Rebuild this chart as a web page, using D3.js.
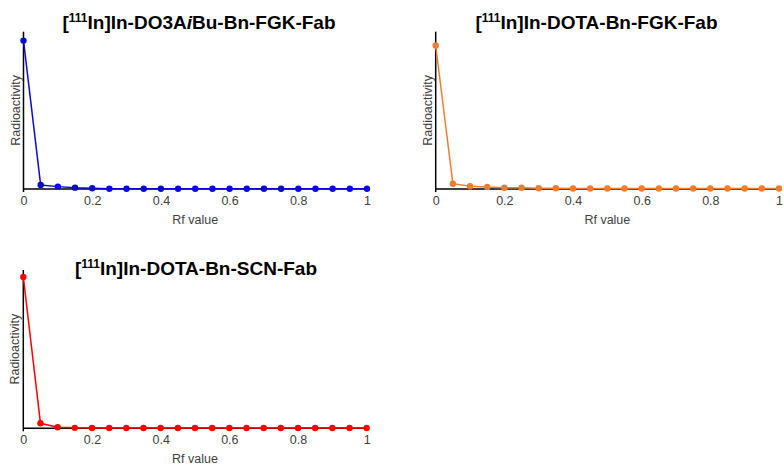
<!DOCTYPE html>
<html>
<head>
<meta charset="utf-8">
<script src="https://cdn.jsdelivr.net/npm/d3@7"></script>
<style>
  body { margin: 0; background: #fff; }
  svg { display: block; font-family: "Liberation Sans", Arial, sans-serif; }
</style>
</head>
<body>
<svg id="chart" width="784" height="466"></svg>
<script>
// Rf positions along the TLC strip
var rfValues = [0, 0.05, 0.1, 0.15, 0.2, 0.25, 0.3, 0.35, 0.4, 0.45, 0.5,
                0.55, 0.6, 0.65, 0.7, 0.75, 0.8, 0.85, 0.9, 0.95, 1];

// radioactivity (relative, peak = 100)
var do3aFgk = [100, 2.7, 1.6, 0.9, 0.5, 0.2, 0.2, 0.2, 0.2, 0.2, 0.2,
               0.2, 0.2, 0.2, 0.2, 0.2, 0.2, 0.2, 0.2, 0.2, 0.2];
var dotaFgk = [100, 3.7, 1.9, 1.4, 0.9, 0.9, 0.5, 0.5, 0.4, 0.4, 0.4,
               0.4, 0.4, 0.4, 0.4, 0.4, 0.4, 0.4, 0.4, 0.4, 0.4];
var dotaScn = [100, 3.3, 0.7, 0.3, 0.2, 0.2, 0.2, 0.2, 0.2, 0.2, 0.2,
               0.2, 0.2, 0.2, 0.2, 0.2, 0.2, 0.2, 0.2, 0.2, 0.2];

var xTicks = [0, 0.2, 0.4, 0.6, 0.8, 1];

var svg = d3.select('#chart');

// each panel: title parts, data, colour and placement
var panels = [
    {
        title: [['[', 'n'], ['111', 'sup'], ['In]In-DO3A', 'n'], ['i', 'it'], ['Bu-Bn-FGK-Fab', 'n']],
        values: do3aFgk, color: '#0a0ad0', yMax: 106,
        left: 23.5, right: 367, top: 31.7, base: 189, titleX: 199, titleY: 29
    },
    {
        title: [['[', 'n'], ['111', 'sup'], ['In]In-DOTA-Bn-FGK-Fab', 'n']],
        values: dotaFgk, color: '#ed7d31', yMax: 109.6,
        left: 435.7, right: 779, top: 31.7, base: 189, titleX: 596.5, titleY: 29
    },
    {
        title: [['[', 'n'], ['111', 'sup'], ['In]In-DOTA-Bn-SCN-Fab', 'n']],
        values: dotaScn, color: '#ff0000', yMax: 104.6,
        left: 23.3, right: 366.7, top: 270, base: 428.3, titleX: 196, titleY: 275
    }
];

panels.forEach(function (p) {
    var x = d3.scaleLinear().domain([0, 1]).range([p.left, p.right]),
        y = d3.scaleLinear().domain([0, p.yMax]).range([p.base, p.top]);

    var g = svg.append('g');

    // title with superscript and italic bits
    var t = g.append('text')
        .attr('x', p.titleX)
        .attr('y', p.titleY)
        .attr('text-anchor', 'middle')
        .attr('font-size', 19)
        .attr('font-weight', 'bold')
        .attr('fill', '#000');
    p.title.forEach(function (part, i) {
        var span = t.append('tspan').text(part[0]);
        if (part[1] === 'sup') {
            span.attr('font-size', 12).attr('dy', -7);
        } else if (part[1] === 'it') {
            span.attr('font-style', 'italic');
        }
        // return to baseline after a superscript
        var prev = p.title[i - 1];
        if (part[1] !== 'sup' && prev && prev[1] === 'sup') span.attr('dy', 7);
    });

    // x axis: labels only, line drawn separately
    var xAxis = g.append('g')
        .attr('transform', 'translate(0,' + (p.base + 7) + ')')
        .call(d3.axisBottom(x).tickValues(xTicks).tickSize(0).tickPadding(0)
            .tickFormat(function (d) { return d; }));
    xAxis.select('.domain').remove();
    xAxis.selectAll('text')
        .attr('font-family', '"Liberation Sans", Arial, sans-serif')
        .attr('font-size', 12.5)
        .attr('fill', '#404040')
        .attr('dy', '0.71em');

    // axis lines
    g.append('line')
        .attr('x1', x(0)).attr('x2', x(1))
        .attr('y1', y(0)).attr('y2', y(0))
        .attr('stroke', '#000').attr('stroke-width', 1.5);
    g.append('line')
        .attr('x1', x(0)).attr('x2', x(0))
        .attr('y1', y(p.yMax)).attr('y2', y(0) + 3)
        .attr('stroke', '#000').attr('stroke-width', 1.5);

    // axis titles
    g.append('text')
        .attr('x', (p.left + p.right) / 2)
        .attr('y', p.base + 35)
        .attr('text-anchor', 'middle')
        .attr('font-size', 12.5)
        .attr('fill', '#404040')
        .text('Rf value');
    g.append('text')
        .attr('transform', 'translate(' + (p.left - 4) + ',' + ((p.top + p.base) / 2) + ') rotate(-90)')
        .attr('text-anchor', 'middle')
        .attr('font-size', 12.5)
        .attr('fill', '#404040')
        .text('Radioactivity');

    var pts = rfValues.map(function (rf, i) { return [rf, p.values[i]]; });

    g.append('path')
        .datum(pts)
        .attr('fill', 'none')
        .attr('stroke', p.color)
        .attr('stroke-width', 1.5)
        .attr('d', d3.line()
            .x(function (d) { return x(d[0]); })
            .y(function (d) { return y(d[1]); }));

    g.selectAll('circle')
        .data(pts)
        .enter()
        .append('circle')
        .attr('cx', function (d) { return x(d[0]); })
        .attr('cy', function (d) { return y(d[1]); })
        .attr('r', 3.2)
        .attr('fill', p.color);
});
</script>
</body>
</html>
